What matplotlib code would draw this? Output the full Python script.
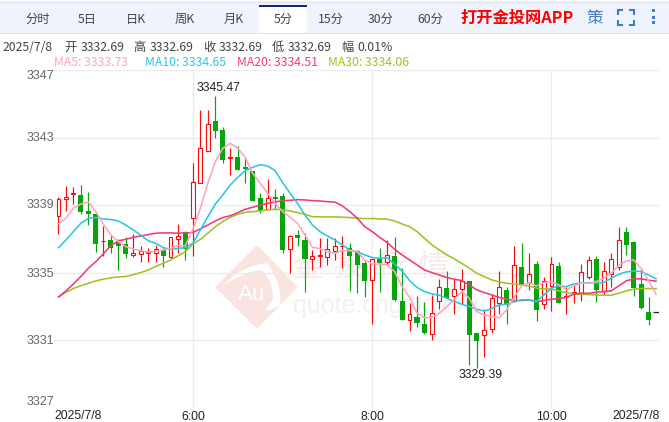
import matplotlib
matplotlib.use("Agg")
import matplotlib.pyplot as plt
from matplotlib.patches import Polygon, Rectangle, PathPatch
from matplotlib.path import Path

plt.rcParams['font.family'] = ['Liberation Sans', 'Noto Sans CJK SC']

# candles, 5 minute bars
opens = [3338.34, 3339.39, 3339.69, 3339.61, 3338.66, 3338.48, 3336.87, 3336.94, 3336.81, 3336.71,
         3336.04, 3336.10, 3336.20, 3336.16, 3336.35, 3335.92, 3337.02, 3337.42, 3338.23, 3340.30,
         3342.19, 3343.96, 3343.45, 3341.78, 3341.83, 3341.24, 3341.03, 3339.43, 3338.76, 3339.49,
         3339.55, 3336.43, 3337.24, 3336.94, 3335.83, 3336.01, 3335.95, 3336.31, 3336.56, 3336.47,
         3336.31, 3335.60, 3334.60, 3335.82, 3335.66, 3336.00, 3333.34, 3332.19, 3332.37, 3331.96,
         3331.36, 3333.32, 3334.09, 3333.61, 3334.03, 3334.52, 3331.42, 3331.31, 3331.66, 3333.24,
         3333.99, 3333.34, 3335.33, 3334.48, 3335.53, 3333.14, 3334.24, 3335.41, 3333.55, 3333.73,
         3333.79, 3334.78, 3335.82, 3333.91, 3334.91, 3335.35, 3337.40, 3336.83, 3334.32, 3332.69,
         3332.69]
highs = [3339.47, 3340.14, 3340.10, 3340.18, 3339.78, 3338.48, 3337.79, 3337.22, 3336.98, 3337.12,
         3337.28, 3336.59, 3336.45, 3336.67, 3336.49, 3337.10, 3337.87, 3337.50, 3341.48, 3344.64,
         3344.64, 3345.47, 3343.63, 3342.39, 3342.51, 3341.78, 3341.03, 3339.74, 3340.53, 3339.94,
         3339.71, 3337.24, 3337.54, 3337.38, 3336.35, 3337.04, 3337.04, 3337.04, 3337.18, 3336.74,
         3336.35, 3335.70, 3335.80, 3336.45, 3336.95, 3337.10, 3335.27, 3333.20, 3333.63, 3333.26,
         3333.69, 3334.64, 3335.11, 3334.62, 3335.21, 3334.52, 3331.42, 3332.86, 3333.73, 3335.09,
         3334.14, 3336.59, 3336.75, 3336.20, 3335.68, 3334.78, 3335.92, 3335.66, 3334.14, 3334.28,
         3335.53, 3336.00, 3336.00, 3335.62, 3336.20, 3337.69, 3337.69, 3336.83, 3335.25, 3333.55,
         3332.69]
lows = [3337.28, 3338.66, 3339.07, 3338.48, 3337.85, 3336.25, 3336.00, 3336.18, 3335.17, 3335.86,
        3335.94, 3335.66, 3335.64, 3335.64, 3335.37, 3335.86, 3336.20, 3335.74, 3336.00, 3340.30,
        3342.19, 3343.00, 3341.48, 3340.79, 3341.09, 3340.30, 3339.27, 3338.56, 3338.76, 3338.76,
        3336.16, 3334.97, 3336.59, 3333.88, 3335.16, 3335.36, 3335.46, 3335.76, 3335.26, 3333.94,
        3333.78, 3333.59, 3331.96, 3333.85, 3335.47, 3333.36, 3332.23, 3331.56, 3331.78, 3331.36,
        3331.03, 3332.86, 3333.51, 3332.57, 3333.18, 3329.55, 3329.39, 3330.04, 3331.46, 3332.57,
        3331.96, 3333.30, 3334.28, 3333.99, 3332.17, 3332.86, 3332.73, 3333.24, 3332.57, 3333.20,
        3333.36, 3334.64, 3333.30, 3333.69, 3334.18, 3335.17, 3336.06, 3333.65, 3332.84, 3331.94,
        3332.69]
closes = [3339.35, 3339.47, 3339.72, 3338.62, 3338.48, 3336.73, 3336.90, 3336.49, 3336.61, 3336.14,
          3336.16, 3336.31, 3336.23, 3336.39, 3336.02, 3337.10, 3337.16, 3336.39, 3340.36, 3342.41,
          3343.79, 3343.39, 3341.70, 3341.83, 3341.11, 3341.16, 3339.27, 3338.68, 3339.41, 3339.39,
          3336.37, 3337.18, 3337.08, 3335.81, 3335.97, 3336.05, 3336.39, 3336.56, 3336.60, 3336.01,
          3335.48, 3334.53, 3335.80, 3335.58, 3336.04, 3333.42, 3332.23, 3332.55, 3332.05, 3331.44,
          3332.65, 3334.14, 3333.51, 3334.03, 3334.52, 3331.34, 3330.99, 3331.60, 3333.49, 3334.14,
          3333.10, 3335.45, 3334.28, 3334.91, 3332.82, 3334.54, 3335.51, 3333.24, 3333.61, 3333.85,
          3335.03, 3335.74, 3333.99, 3335.09, 3335.80, 3336.93, 3336.67, 3334.13, 3332.94, 3332.23,
          3332.69]

ma5 = [3337.91, 3338.23, 3338.82, 3339.07, 3339.19, 3338.62, 3337.89, 3337.24, 3336.85, 3336.55,
       3336.41, 3336.31, 3336.23, 3336.27, 3336.35, 3336.45, 3336.61, 3336.61, 3337.58, 3338.82,
       3340.30, 3341.58, 3342.37, 3342.66, 3342.37, 3341.83, 3340.89, 3340.30, 3339.71, 3339.11,
       3338.62, 3338.29, 3337.93, 3337.24, 3336.51, 3336.43, 3336.25, 3336.16, 3336.31, 3336.31,
       3336.25, 3335.76, 3335.53, 3335.51, 3335.47, 3335.07, 3334.18, 3333.55, 3332.61, 3332.35,
       3332.35, 3332.61, 3333.00, 3333.44, 3333.89, 3333.49, 3332.71, 3332.51, 3332.41, 3332.35,
       3332.80, 3333.55, 3334.22, 3334.42, 3334.22, 3334.42, 3334.46, 3334.28, 3333.99, 3334.22,
       3334.38, 3334.38, 3334.48, 3334.68, 3334.97, 3335.43, 3335.70, 3335.76, 3335.27, 3334.54,
       3333.73]
ma10 = [3336.49, 3336.94, 3337.44, 3337.93, 3338.23, 3338.27, 3338.19, 3338.15, 3338.07, 3337.83,
        3337.54, 3337.24, 3336.90, 3336.75, 3336.49, 3336.39, 3336.45, 3336.49, 3336.75, 3337.54,
        3338.32, 3339.07, 3339.61, 3340.20, 3340.65, 3341.05, 3341.24, 3341.40, 3341.32, 3341.05,
        3340.34, 3339.71, 3339.11, 3338.42, 3337.83, 3337.44, 3337.18, 3336.94, 3336.65, 3336.35,
        3336.25, 3336.06, 3335.90, 3335.86, 3335.90, 3335.51, 3335.11, 3334.54, 3334.14, 3333.89,
        3333.75, 3333.67, 3333.49, 3333.30, 3333.14, 3333.00, 3332.84, 3332.74, 3332.88, 3333.10,
        3333.14, 3333.30, 3333.40, 3333.40, 3333.30, 3333.69, 3334.09, 3334.22, 3334.18, 3334.34,
        3334.38, 3334.42, 3334.40, 3334.42, 3334.68, 3334.91, 3335.05, 3335.11, 3335.07, 3334.87,
        3334.65]
ma20 = [3333.57, 3333.93, 3334.34, 3334.78, 3335.27, 3335.66, 3336.12, 3336.61, 3336.89, 3336.98,
        3337.10, 3337.18, 3337.26, 3337.34, 3337.36, 3337.36, 3337.34, 3337.36, 3337.38, 3337.60,
        3337.83, 3338.07, 3338.27, 3338.38, 3338.56, 3338.76, 3338.88, 3339.00, 3339.11, 3339.19,
        3339.27, 3339.29, 3339.33, 3339.31, 3339.27, 3339.25, 3339.21, 3339.19, 3338.96, 3338.62,
        3338.23, 3337.73, 3337.44, 3337.10, 3336.79, 3336.39, 3336.06, 3335.76, 3335.47, 3335.17,
        3335.01, 3334.87, 3334.72, 3334.62, 3334.54, 3334.28, 3333.99, 3333.83, 3333.69, 3333.55,
        3333.44, 3333.36, 3333.36, 3333.40, 3333.28, 3333.36, 3333.44, 3333.47, 3333.55, 3333.73,
        3333.79, 3333.79, 3333.85, 3333.89, 3333.93, 3334.22, 3334.52, 3334.64, 3334.64, 3334.56,
        3334.51]
ma30 = [3333.57, 3333.85, 3334.07, 3334.24, 3334.38, 3334.52, 3334.62, 3334.70, 3334.76, 3334.78,
        3334.89, 3335.01, 3335.17, 3335.37, 3335.56, 3335.76, 3336.00, 3336.25, 3336.71, 3336.98,
        3337.34, 3337.73, 3338.03, 3338.29, 3338.46, 3338.58, 3338.62, 3338.66, 3338.72, 3338.76,
        3338.72, 3338.66, 3338.56, 3338.46, 3338.32, 3338.31, 3338.31, 3338.31, 3338.29, 3338.27,
        3338.23, 3338.21, 3338.21, 3338.19, 3338.17, 3338.07, 3337.89, 3337.73, 3337.44, 3337.04,
        3336.65, 3336.35, 3336.06, 3335.82, 3335.56, 3335.27, 3334.97, 3334.78, 3334.58, 3334.46,
        3334.38, 3334.34, 3334.28, 3334.22, 3334.09, 3334.05, 3334.03, 3333.93, 3333.83, 3333.75,
        3333.73, 3333.71, 3333.69, 3333.67, 3333.67, 3333.79, 3333.93, 3334.03, 3334.07, 3334.07,
        3334.06]

y_ticks = [3347, 3343, 3339, 3335, 3331, 3327]
x_tick_pos = [18, 42, 66]
x_tick_labels = ['6:00', '8:00', '10:00']
first_date = '2025/7/8'
tabs = ['分时', '5日', '日K', '周K', '月K', '5分', '15分', '30分', '60分']
ma_labels = ['MA5: 3333.73', 'MA10: 3334.65', 'MA20: 3334.51', 'MA30: 3334.06']

RED = '#fa0a0a'
GREEN = '#07a50c'
MA_COLORS = ['#ffa3bf', '#2cc6e4', '#f2397b', '#9cc425']
W, H = 669, 422
CJK = ['Noto Sans CJK SC', 'Liberation Sans']

fig = plt.figure(figsize=(W / 100, H / 100), dpi=100, facecolor='white')

# page layer in pixel coords, tabs + header + watermark
bg = fig.add_axes([0, 0, 1, 1], zorder=0)
bg.set_xlim(0, W)
bg.set_ylim(H, 0)
bg.axis('off')

bg.add_patch(Rectangle((0, 1), W, 32, fc='#eff4fc', ec='none'))
bg.plot([0, W], [1.5, 1.5], color='#e1e7f3', lw=0.8)
bg.plot([0, W], [32.5, 32.5], color='#dbe3f0', lw=0.8)
bg.add_patch(Rectangle((259, 5), 48, 28, fc='white', ec='none'))
bg.add_patch(Rectangle((259, 5), 48, 1.6, fc='#14267d', ec='none'))
tab_x = [38, 87, 136, 185, 234, 283, 331, 381, 430]
for t, x in zip(tabs, tab_x):
    bg.text(x, 19, t, ha='center', va='center', fontsize=8.8, color='#444444', family=CJK)
bg.text(517, 18, '打开金投网APP', ha='center', va='center', fontsize=11.7, color='#ff0000',
        fontweight='bold', family=CJK)
bg.text(595, 18, '策', ha='center', va='center', fontsize=12, color='#4c7fc1', family=CJK)
# fullscreen corners
for cx, cy, dx, dy in [(618, 10, 1, 1), (634, 10, -1, 1), (618, 25, 1, -1), (634, 25, -1, -1)]:
    bg.plot([cx + 5 * dx, cx, cx], [cy, cy, cy + 5 * dy], color='#3f7cc9', lw=1.5,
            solid_capstyle='butt', solid_joinstyle='miter')
for dy in [10, 17, 22]:
    bg.add_patch(Rectangle((651.5, dy - 1.5), 3, 3, fc='#3f7cc9', ec='none'))

# ohlc line
hdr = [(3, '2025/7/8'), (64, '开'), (81, '3332.69'), (133, '高'), (150, '3332.69'), (203, '收'),
       (219, '3332.69'), (272, '低'), (288, '3332.69'), (341, '幅'), (357, '0.01%')]
for x, t in hdr:
    bg.text(x, 47.5, t, ha='left', va='center', fontsize=8.8, color='#444444', family=CJK)
for x, t, c in zip([54, 145, 237, 328], ma_labels, MA_COLORS):
    bg.text(x, 62, t, ha='left', va='center', fontsize=8.8, color=c, family=CJK)

# watermark
bg.add_patch(Polygon([(257, 248), (295, 287), (257, 326), (218, 287)], closed=True, fc='#f9e4e0',
                     ec='#f9e4e0', lw=3, joinstyle='round'))
swoosh = Path([(222, 287), (240, 266), (267, 263), (283, 285), (280, 305), (256, 319),
               (273, 300), (274, 283), (262, 270), (240, 272), (222, 287)],
              [Path.MOVETO, Path.CURVE3, Path.CURVE3, Path.CURVE3, Path.CURVE3, Path.CURVE3,
               Path.CURVE3, Path.CURVE3, Path.CURVE3, Path.CURVE3, Path.CURVE3])
bg.add_patch(PathPatch(swoosh, fc='white', ec='none'))
bg.text(252, 295, 'Au', ha='center', va='center', fontsize=16, color='white')
for wx, ch in zip([307, 349, 391, 433], '金投行情'):
    bg.text(wx, 268, ch, ha='center', va='center', fontsize=22, color='#fbebe8', family=CJK)
bg.text(293, 306, 'quote.cngold.org', ha='left', va='center', fontsize=18, color='#f1f1f1')

# axis labels on page layer so they sit outside the plot box
y_label_px = [76, 138, 205, 274, 341, 402]
for v, py in zip(y_ticks, y_label_px):
    bg.text(54, py, str(v), ha='right', va='center', fontsize=9, color='#666666')
bg.text(54, 416, first_date, ha='left', va='center', fontsize=8.8, color='#222222')
bg.text(660, 416, first_date, ha='right', va='center', fontsize=8.8, color='#222222')

# price chart, 53..659 wide, 70..408 tall
ax = fig.add_axes([53 / W, 1 - 408 / H, (659 - 53) / W, (408 - 70) / H], zorder=1)
ax.patch.set_alpha(0)
ax.set_xlim(-0.736, 80.4)
ax.set_ylim(3327, 3347)
for s in ax.spines.values():
    s.set_visible(False)
ax.set_yticks(y_ticks)
ax.set_yticklabels([])
ax.set_xticks(x_tick_pos)
ax.set_xticklabels(x_tick_labels, fontsize=8.8, color='#222222')
ax.tick_params(length=0, pad=2)
ax.grid(True, color='#ececec', lw=1)
ax.set_axisbelow(True)

for i in range(len(opens)):
    o, h, l, c = opens[i], highs[i], lows[i], closes[i]
    if o == c:
        ax.hlines(c, i - 0.36, i + 0.36, color='#222222', lw=0.9, zorder=3)
        continue
    up = c > o
    col = RED if up else GREEN
    ax.vlines(i, l, h, color=col, lw=0.85, zorder=3, snap=True)
    ax.bar(i, abs(c - o), bottom=min(o, c), width=0.52 if up else 0.68,
           facecolor='white' if up else col, edgecolor=col, linewidth=0.8 if up else 0, zorder=4)

x = list(range(len(ma5)))
for vals, col in zip([ma30, ma20, ma10, ma5], MA_COLORS[::-1]):
    ax.plot(x, vals, color=col, lw=1.15, zorder=5, solid_joinstyle='round')

ax.annotate('3345.47', (21, highs[21]), xytext=(2.2, 5.8), textcoords='offset points', ha='center',
            va='center', fontsize=8.8, color='#222222', zorder=6)
ax.annotate('3329.39', (56, lows[56]), xytext=(3, -5.4), textcoords='offset points', ha='center',
            va='center', fontsize=8.8, color='#222222', zorder=6)

fig.savefig('out.png', dpi=100, facecolor='white')
